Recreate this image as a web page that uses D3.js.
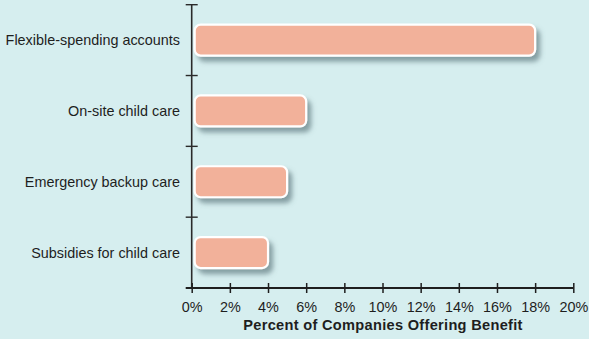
<!DOCTYPE html>
<html><head><meta charset="utf-8">
<script src="https://cdn.jsdelivr.net/npm/d3@7"></script>
<style>
html,body{margin:0;padding:0;background:#d6eeef;}
svg{display:block;}
</style></head>
<body>
<svg id="chart" width="589" height="339"></svg>
<script>
const categories = ["Flexible-spending accounts","On-site child care","Emergency backup care","Subsidies for child care"];
const values = [18, 6, 5, 4];
const tickValues = [0,2,4,6,8,10,12,14,16,18,20];
const axisTitle = "Percent of Companies Offering Benefit";

const svg = d3.select("#chart");
svg.append("rect").attr("width",589).attr("height",339).attr("fill","#d6eeef");

const defs = svg.append("defs");
const f = defs.append("filter").attr("id","sh").attr("x","-10%").attr("y","-30%").attr("width","130%").attr("height","180%");
f.append("feDropShadow").attr("dx",4).attr("dy",5).attr("stdDeviation",2.5)
  .attr("flood-color","#4f6b70").attr("flood-opacity",0.6);

const x = d3.scaleLinear().domain([0,20]).range([191.7,573.3]);
const y = d3.scaleBand().domain(categories).range([4.7,288]).paddingInner(0).paddingOuter(0);

const barH = 31;
// bars
svg.append("g").selectAll("rect").data(categories).join("rect")
  .attr("x", x(0)+3)
  .attr("y", d => y(d)+y.bandwidth()/2 - barH/2)
  .attr("width", (d,i) => x(values[i]) - x(0) - 3)
  .attr("height", barH)
  .attr("rx",6).attr("ry",6)
  .attr("fill","#f2b19a")
  .attr("stroke","#ffffff").attr("stroke-width",2.2)
  .attr("filter","url(#sh)");

// y axis line
svg.append("line").attr("x1",x(0)).attr("x2",x(0)).attr("y1",y.range()[0]).attr("y2",y.range()[1])
  .attr("stroke","#2a2a2a").attr("stroke-width",1.6);
// y ticks at band boundaries
const bounds = categories.map(c => y(c)).concat([y.range()[1]]);
svg.append("g").selectAll("line").data(bounds.slice(0,4)).join("line")
  .attr("x1",x(0)-6).attr("x2",x(0)+6)
  .attr("y1",d=>d).attr("y2",d=>d)
  .attr("stroke","#2a2a2a").attr("stroke-width",1.4);

// y labels
svg.append("g").selectAll("text").data(categories).join("text")
  .attr("x",180).attr("y", d => y(d)+y.bandwidth()/2)
  .attr("dy","0.35em").attr("text-anchor","end")
  .attr("font-family","Liberation Sans, Arial, sans-serif").attr("font-size",14.4)
  .attr("fill","#1e1e1e").text(d=>d);

// x axis
const xAxis = d3.axisBottom(x).tickValues(tickValues).tickFormat(d => d+"%").tickSize(5).tickPadding(9);
const gx = svg.append("g").attr("transform",`translate(0,${y.range()[1]})`).call(xAxis);
gx.select(".domain").attr("stroke","#1e1e1e").attr("stroke-width",2.2).attr("d",`M${x(0)-6},0H${x(20)}`);
gx.selectAll(".tick line").attr("y1",-5).attr("y2",5).attr("stroke","#1e1e1e").attr("stroke-width",1.5);
gx.selectAll(".tick text").attr("font-family","Liberation Sans, Arial, sans-serif").attr("font-size",14.4).attr("fill","#1e1e1e");

svg.append("text").attr("x",383).attr("y",330)
  .attr("text-anchor","middle")
  .attr("font-family","Liberation Sans, Arial, sans-serif").attr("font-weight","bold").attr("font-size",14.6)
  .attr("letter-spacing",0.3)
  .attr("fill","#1e1e1e").text(axisTitle);
</script>
</body></html>
